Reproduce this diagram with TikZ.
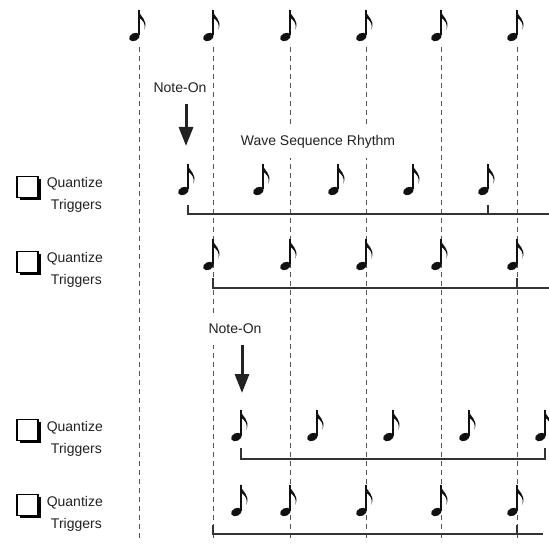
\documentclass[tikz,border=0pt]{standalone}
\usepackage{fontspec}
\setmainfont{Liberation Sans}
\usetikzlibrary{arrows.meta,shadows}
\definecolor{ink}{HTML}{222222}
\definecolor{notecol}{HTML}{111111}
\definecolor{gridcol}{HTML}{555555}
\definecolor{rulecol}{HTML}{333333}
\begin{document}
\begin{tikzpicture}[x=1pt,y=-1pt,
  label/.style={font=\fontsize{14}{16}\selectfont, text=ink, inner sep=0pt},
  tag/.style={label, fill=white, inner xsep=7pt, minimum height=32pt},
  checkbox/.style={draw=black, line width=1.4pt, fill=white, minimum size=21pt,
    inner sep=0pt, drop shadow={shadow xshift=2.5pt, shadow yshift=-2.5pt,
    fill=black, opacity=1}},
  gridline/.style={gridcol, line width=0.9pt, dash pattern=on 5pt off 4pt},
  beat/.style={rulecol, line width=1.4pt},
  onarrow/.style={ink, line width=3pt, -{Triangle[width=14pt,length=19pt]}},
  eighth/.pic={
    % note head, stem and flag; origin at the head centre, stem on x=0
    \fill[notecol, shift={(-4.6,0)}, rotate=25] (0,0) ellipse (5.6 and 3.9);
    \draw[notecol, line width=1.3pt] (0,-1.5) -- (0,-27);
    \fill[notecol] (-0.65,-27.6) .. controls (0.8,-19.5) and (9.8,-17.5) .. (5.2,-7.2)
      .. controls (7.2,-14) and (3,-16.8) .. (0.65,-19) -- cycle;
  }
]
\useasboundingbox (0,0) rectangle (549,545);

% beat grid
\foreach \x in {139,213,290,366,441,517}
  \draw[gridline] (\x,47) -- (\x,542);

% labels (white backing hides the grid behind them)
\node[tag] (non1) at (180,88) {Note-On};
\node[tag] (wsr) at (318,142) {Wave Sequence Rhythm};
\node[tag] (non2) at (235,329) {Note-On};

% Note-On arrows
\coordinate (tip1) at (186,146);
\coordinate (tip2) at (242,393);
\draw[onarrow] (tip1 |- non1.south) -- (tip1);
\draw[onarrow] (tip2 |- non2.south) -- (tip2);

% tempo notes
\foreach \x in {139,213,290,366,441,517}
  \pic at (\x,37) {eighth};

% row 1: free-running wave sequence
\foreach \x in {188,263,338,413,488}
  \pic at (\x,191) {eighth};
\draw[beat] (188,205) -- (188,214) -- (549,214);
\draw[beat] (488,205) -- (488,214);

% row 2
\foreach \x in {213,290,366,441,517}
  \pic at (\x,266) {eighth};
\draw[beat] (213,278) -- (213,288) -- (549,288);
\draw[beat] (517,278) -- (517,288);

% row 3
\foreach \x in {241,317,393,469,545}
  \pic at (\x,437) {eighth};
\draw[beat] (241,448) -- (241,459) -- (545,459) -- (545,448);

% row 4
\foreach \x in {241,290,366,441,517}
  \pic at (\x,512) {eighth};
\draw[beat] (213,525) -- (213,534) -- (543,534);
\draw[beat] (517,525) -- (517,534);

% Quantize Triggers check boxes
\foreach \dy/\n in {0/1,75/2,243/3,318/4} {
  \node[checkbox] (cb\n) at (27.5,187+\dy) {};
  \node[label, anchor=base east] (qz\n) at (103,188+\dy) {Quantize};
  \node[label, anchor=base east] (tr\n) at (102,210+\dy) {Triggers};
}
\end{tikzpicture}
\end{document}
